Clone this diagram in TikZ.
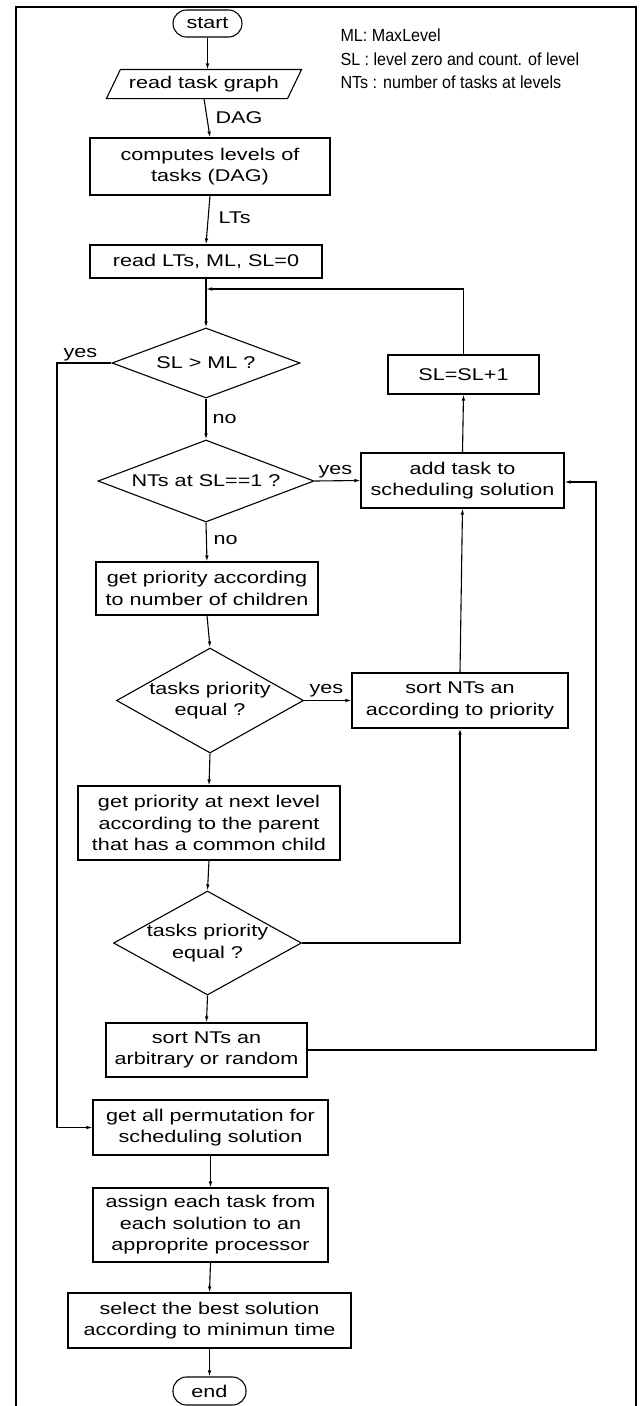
\documentclass[tikz,border=0pt]{standalone}
\usepackage{fontspec}
\setmainfont{Liberation Sans}
\newfontfamily\boxfont{Liberation Sans}[FakeStretch=1.27]
\newfontfamily\legfont{Liberation Sans}[FakeStretch=0.92]
\usetikzlibrary{shapes.geometric,arrows.meta,calc}
\begin{document}
\begin{tikzpicture}[x=1pt,y=-1pt,
  font=\boxfont\fontsize{17}{21.5}\selectfont,
  line width=1.1pt,
  box/.style={draw, rectangle, inner sep=0pt, align=center},
  term/.style={draw, rectangle, rounded corners=13.5pt, inner sep=0pt},
  dia/.style={draw, diamond, inner sep=0pt},
  txt/.style={inner sep=0pt, align=center},
  arr/.style={-{Latex[length=6pt,width=3.6pt]}},
  lab/.style={inner sep=0pt, anchor=base west},
  leg/.style={inner sep=0pt, anchor=base west, font=\legfont\fontsize{17.5}{20}\selectfont},
]
\useasboundingbox (0,0) rectangle (641,1406);
% frame
\draw[line width=2pt] (15.5,1410) -- (15.5,6.5) -- (636,6.5) -- (636,1410);

% legend
\node[leg] (l1) at (340,41) {ML: MaxLevel};
\node[leg] (l2) at (340,65) {SL : level zero and count. of level};
\node[leg] (l3) at (340,88) {NTs : number of tasks at levels};

% main column
\node[term, minimum width=69pt, minimum height=27pt] (start) at (207.5,23.5) {start};
\node[txt, minimum width=180pt, minimum height=28pt] (read) at (204,84) {read task graph};
\draw ($(read.south west)+(-7,0)$) -- ($(read.north west)+(7,0)$) -- ($(read.north east)+(7,0)$) -- ($(read.south east)+(-7,0)$) -- cycle;
\node[box, minimum width=240pt, minimum height=57pt] (comp) at (210,166.5) {computes levels of\\tasks (DAG)};
\node[box, minimum width=232pt, minimum height=33pt] (rlt) at (206,261.5) {read LTs, ML, SL=0};
\node[dia, minimum width=188pt, minimum height=70pt] (d0) at (206,363) {};
\node[txt] (d0t) at (d0) {SL > ML ?};
\node[dia, minimum width=216pt, minimum height=82pt] (d1) at (206,481) {};
\node[txt] (d1t) at (d1) {NTs at SL==1 ?};
\node[box, minimum width=222pt, minimum height=53pt] (gp) at (207,588.5) {get priority according\\to number of children};
\node[dia, minimum width=187pt, minimum height=105pt] (d2) at (210,700.5) {};
\node[txt] (d2t) at (d2) {tasks priority\\equal ?};
\node[box, minimum width=262pt, minimum height=74pt] (gpn) at (209,823) {get priority at next level\\according to the parent\\that has a common child};
\node[dia, minimum width=188pt, minimum height=104pt] (d3) at (207.5,943) {};
\node[txt] (d3t) at (d3) {tasks priority\\equal ?};
\node[box, minimum width=201pt, minimum height=54pt] (arb) at (206.5,1050) {sort NTs an\\arbitrary or random};
\node[box, minimum width=235pt, minimum height=55pt] (perm) at (210.5,1127.5) {get all permutation for\\scheduling solution};
\node[box, minimum width=235pt, minimum height=74pt] (asg) at (210.5,1225) {assign each task from\\each solution to an\\approprite processor};
\node[box, minimum width=283pt, minimum height=55pt] (sel) at (209.5,1320.5) {select the best solution\\according to minimun time};
\node[term, minimum width=73pt, minimum height=28pt] (end) at (209.5,1391) {end};

% right column
\node[box, minimum width=151pt, minimum height=39pt] (slp) at (463.5,374.5) {SL=SL+1};
\node[box, minimum width=203pt, minimum height=55pt] (add) at (462.5,480.5) {add task to\\scheduling solution};
\node[box, minimum width=216pt, minimum height=55pt] (srt) at (460,700.5) {sort NTs an\\according to priority};

% helper coordinates
\coordinate (jn) at (206,289);
\coordinate (yx) at (57,363);
\coordinate (rx) at (596,482);

% labels
\node[lab] (lDAG) at (215,123) {DAG};
\node[lab] (lLT) at (218,223) {LTs};
\node[lab] (lno1) at (212,423.5) {no};
\node[lab] (lno2) at (213,544.5) {no};
\node[lab] (lyes0) at (63,357.5) {yes};
\node[lab] (lyes1) at (318,474.5) {yes};
\node[lab] (lyes2) at (309,693.5) {yes};

% connectors
\draw[arr] (start.south) -- (start.south |- read.north);
\draw[arr] (read.south) -- (comp.north);
\draw[arr] (comp.south) -- (rlt.north);
\draw (rlt.south) -- (jn);
\draw[arr] (jn) -- (d0.north);
\draw[arr] (slp.north) -- (slp.north |- jn) -- (jn);
\draw[arr] (d0.west) -- (d0.west -| yx) |- (perm.west);
\draw[arr] (d0.south) -- (d1.north);
\draw[arr] (d1.east) -- (add.west);
\draw[arr] (d1.south) -- (gp.north);
\draw[arr] (gp.south) -- (d2.north);
\draw[arr] (d2.east) -- (srt.west);
\draw[arr] (d2.south) -- (gpn.north);
\draw[arr] (gpn.south) -- (d3.north);
\draw[arr] (d3.east) -| (srt.south);
\draw[arr] (d3.south) -- (arb.north);
\draw[arr] (arb.east) -- (arb.east -| rx) -- (rx) -- (add.east |- rx);
\draw[arr] (srt.north) -- (add.south);
\draw[arr] (add.north) -- (slp.south);
\draw[arr] (perm.south) -- (asg.north);
\draw[arr] (asg.south) -- (sel.north);
\draw[arr] (sel.south) -- (end.north);
\end{tikzpicture}
\end{document}
